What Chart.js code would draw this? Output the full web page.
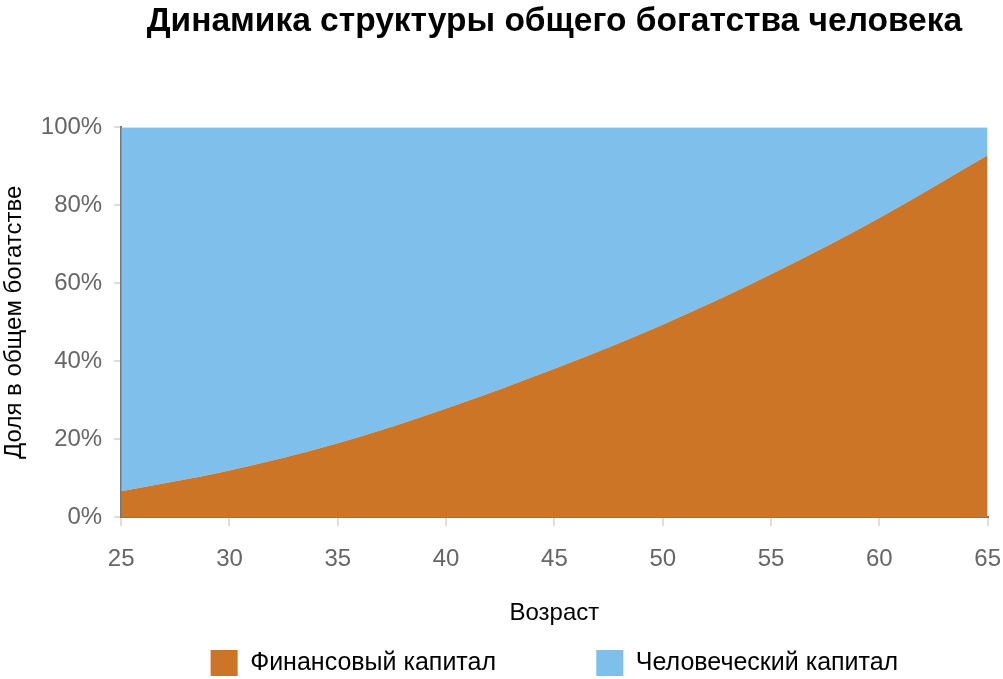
<!DOCTYPE html>
<html lang="ru">
<head>
<meta charset="utf-8">
<title>Динамика структуры общего богатства человека</title>
<script src="https://cdn.jsdelivr.net/npm/chart.js@4/dist/chart.umd.min.js"></script>
<style>
    html, body { margin: 0; padding: 0; background: #fff; }
    #wrap { width: 1003px; height: 679px; }
</style>
</head>
<body>
<div id="wrap"><canvas id="wealthChart" width="1003" height="679"></canvas></div>
<script>
// Age (years)
const ages = [25, 30, 35, 40, 45, 50, 55, 60, 65];
// Share of financial capital in total wealth, %
const financialShare = [6.7, 12.0, 19.0, 27.9, 38.1, 49.4, 62.3, 76.7, 92.8];
// Share of human capital in total wealth, %
const humanShare = [93.3, 88.0, 81.0, 72.1, 61.9, 50.6, 37.7, 23.3, 7.2];

const seriesLabels = ['Финансовый капитал', 'Человеческий капитал'];
const yTicks = [0, 20, 40, 60, 80, 100];

const FONT = "'Liberation Sans', Arial, sans-serif";

const ctx = document.getElementById('wealthChart');

new Chart(ctx, {
    type: 'line',
    data: {
        datasets: [
            {
                label: seriesLabels[0],
                data: ages.map((a, i) => ({ x: a, y: financialShare[i] })),
                backgroundColor: '#cc7526',
                borderColor: '#cc7526',
                borderWidth: 0,
                pointRadius: 0,
                cubicInterpolationMode: 'monotone',
                fill: 'origin'
            },
            {
                label: seriesLabels[1],
                data: ages.map((a, i) => ({ x: a, y: humanShare[i] })),
                backgroundColor: '#7ebfec',
                borderColor: '#7ebfec',
                borderWidth: 0,
                pointRadius: 0,
                cubicInterpolationMode: 'monotone',
                fill: '-1'
            }
        ]
    },
    options: {
        responsive: false,
        animation: false,
        layout: {
            padding: { left: 0, right: 0, top: 0, bottom: -7 }
        },
        plugins: {
            title: {
                display: true,
                fullSize: false,
                text: 'Динамика структуры общего богатства человека',
                color: '#000',
                font: { family: FONT, size: 33.5, weight: 'bold' },
                padding: { top: 2, bottom: 85 }
            },
            legend: {
                position: 'bottom',
                fullSize: false,
                labels: {
                    color: '#000',
                    font: { family: FONT, size: 25 },
                    boxWidth: 27,
                    boxHeight: 26,
                    padding: 10,
                    generateLabels: function(chart) {
                        const items = Chart.defaults.plugins.legend.labels.generateLabels(chart);
                        // widen the gap between the two legend entries
                        items[0].text += ' '.repeat(13);
                        items.forEach(it => { it.lineWidth = 0; });
                        return items;
                    }
                }
            },
            tooltip: { enabled: false }
        },
        scales: {
            x: {
                type: 'linear',
                min: 25,
                max: 65,
                border: { color: '#777', width: 2 },
                grid: {
                    drawOnChartArea: false,
                    // long tick slot for label spacing, only the first 8px drawn
                    tickLength: 26,
                    tickBorderDash: [8, 40],
                    color: '#ddd',
                    lineWidth: 2
                },
                ticks: {
                    stepSize: 5,
                    padding: 2,
                    color: '#666',
                    font: { family: FONT, size: 24 },
                    maxRotation: 0
                },
                title: {
                    display: true,
                    text: 'Возраст',
                    color: '#000',
                    font: { family: FONT, size: 24 },
                    padding: { top: 23, bottom: 12 }
                }
            },
            y: {
                stacked: true,
                min: 0,
                max: 100,
                border: { color: '#777', width: 2 },
                grid: {
                    drawOnChartArea: false,
                    tickLength: 7,
                    color: '#ddd',
                    lineWidth: 2
                },
                afterBuildTicks: function(axis) {
                    axis.ticks = yTicks.map(v => ({ value: v }));
                },
                ticks: {
                    padding: 12,
                    color: '#666',
                    font: { family: FONT, size: 24 },
                    callback: function(value) {
                        return value + '%';
                    }
                },
                title: {
                    display: true,
                    text: 'Доля в общем богатстве',
                    color: '#000',
                    font: { family: FONT, size: 24 },
                    padding: { top: 0, bottom: 0 }
                }
            }
        }
    }
});
</script>
</body>
</html>
